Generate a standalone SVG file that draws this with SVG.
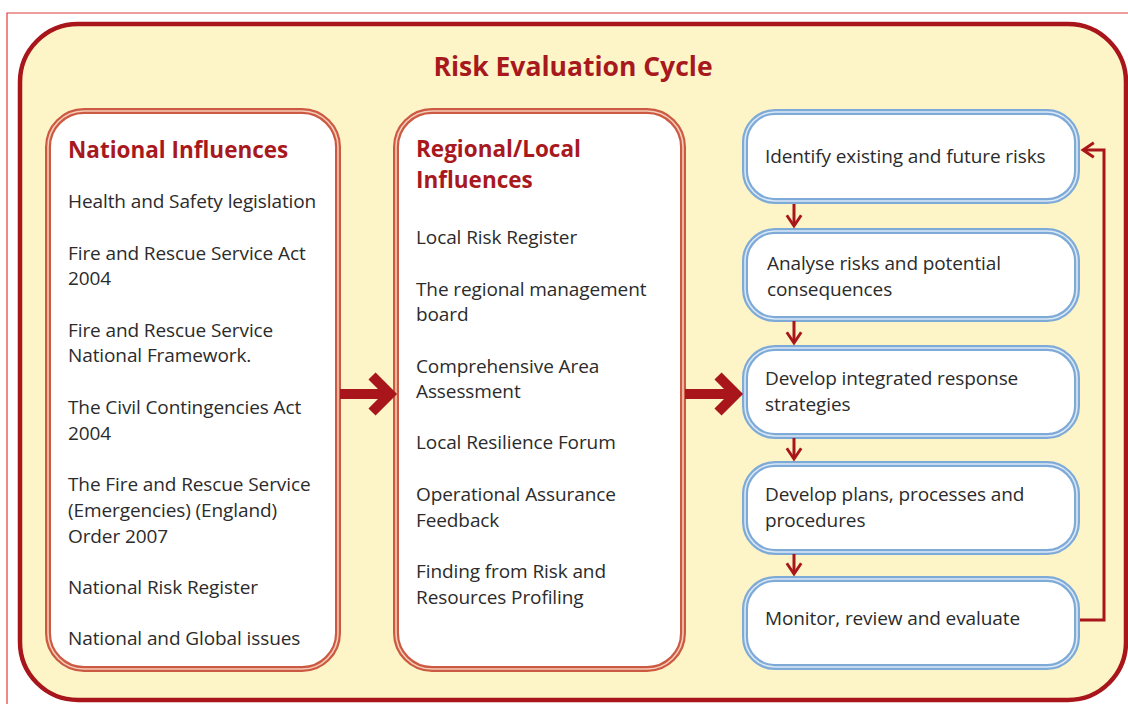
<svg xmlns="http://www.w3.org/2000/svg" width="1128" height="704" viewBox="0 0 1128 704">
<defs>
<style>
.t{font-family:"Open Sans","Liberation Sans",Arial,sans-serif;font-size:19px;fill:#2b2b2b;letter-spacing:-0.1px}
.h{font-family:"Open Sans","Liberation Sans",Arial,sans-serif;font-size:22.5px;font-weight:bold;fill:#a8191e}
.ro{fill:#fff;stroke:#cc5a42;stroke-width:6}
.ri{fill:none;stroke:#f6cdb8;stroke-width:1.6}
.bo{fill:#fff;stroke:#7eaad8;stroke-width:6}
.bi{fill:none;stroke:#dbe8f6;stroke-width:1.6}
.sa{stroke:#a8151a;stroke-width:3;fill:none}
</style>
<marker id="ah" viewBox="0 0 10 10" refX="8" refY="5" markerWidth="6" markerHeight="6" orient="auto" markerUnits="strokeWidth">
<path d="M2,1 L8,5 L2,9" fill="none" stroke="#a8151a" stroke-width="1.6"/>
</marker>
</defs>
<rect width="1128" height="704" fill="#fff"/>
<path d="M7,704 V13 H1128" fill="none" stroke="#e03a3a" stroke-width="1.2"/>
<g id="frame">
<rect x="20" y="24" width="1106" height="676" rx="58" fill="#fdf5c8" stroke="#a8151a" stroke-width="4.5"/>
<text x="573" y="76" text-anchor="middle" class="h" style="font-size:26.5px">Risk Evaluation Cycle</text>
</g>
<g id="national">
<rect class="ro" x="48" y="111" width="290" height="558" rx="36"/>
<rect class="ri" x="48" y="111" width="290" height="558" rx="36"/>
<text class="h" x="68" y="158">National Influences</text>
<text class="t" x="68" y="208">Health and Safety legislation</text>
<text class="t" x="68" y="260">Fire and Rescue Service Act</text>
<text class="t" x="68" y="285">2004</text>
<text class="t" x="68" y="337">Fire and Rescue Service</text>
<text class="t" x="68" y="362">National Framework.</text>
<text class="t" x="68" y="414">The Civil Contingencies Act</text>
<text class="t" x="68" y="440">2004</text>
<text class="t" x="68" y="491">The Fire and Rescue Service</text>
<text class="t" x="68" y="517">(Emergencies) (England)</text>
<text class="t" x="68" y="543">Order 2007</text>
<text class="t" x="68" y="594">National Risk Register</text>
<text class="t" x="68" y="645">National and Global issues</text>
</g>
<g id="regional">
<rect class="ro" x="396" y="111" width="287" height="558" rx="36"/>
<rect class="ri" x="396" y="111" width="287" height="558" rx="36"/>
<text class="h" x="416" y="157">Regional/Local</text>
<text class="h" x="416" y="188">Influences</text>
<text class="t" x="416" y="244">Local Risk Register</text>
<text class="t" x="416" y="296">The regional management</text>
<text class="t" x="416" y="321">board</text>
<text class="t" x="416" y="373">Comprehensive Area</text>
<text class="t" x="416" y="398">Assessment</text>
<text class="t" x="416" y="449">Local Resilience Forum</text>
<text class="t" x="416" y="501">Operational Assurance</text>
<text class="t" x="416" y="527">Feedback</text>
<text class="t" x="416" y="578">Finding from Risk and</text>
<text class="t" x="416" y="604">Resources Profiling</text>
</g>
<g id="identify">
<rect class="bo" x="745" y="112" width="332" height="89" rx="30"/>
<rect class="bi" x="745" y="112" width="332" height="89" rx="30"/>
<text class="t" x="765" y="163">Identify existing and future risks</text>
</g>
<g id="analyse">
<rect class="bo" x="745" y="231" width="332" height="88" rx="30"/>
<rect class="bi" x="745" y="231" width="332" height="88" rx="30"/>
<text class="t" x="767" y="270">Analyse risks and potential</text>
<text class="t" x="767" y="296">consequences</text>
</g>
<g id="develop-strategies">
<rect class="bo" x="745" y="348" width="332" height="88" rx="30"/>
<rect class="bi" x="745" y="348" width="332" height="88" rx="30"/>
<text class="t" x="765" y="385">Develop integrated response</text>
<text class="t" x="765" y="411">strategies</text>
</g>
<g id="develop-plans">
<rect class="bo" x="745" y="464" width="332" height="88" rx="30"/>
<rect class="bi" x="745" y="464" width="332" height="88" rx="30"/>
<text class="t" x="765" y="501">Develop plans, processes and</text>
<text class="t" x="765" y="527">procedures</text>
</g>
<g id="monitor">
<rect class="bo" x="745" y="579" width="332" height="88" rx="30"/>
<rect class="bi" x="745" y="579" width="332" height="88" rx="30"/>
<text class="t" x="765" y="625">Monitor, review and evaluate</text>
</g>
<g id="connectors">
<path d="M340,394 H384" stroke="#a8151a" stroke-width="10" fill="none"/>
<path d="M372,376 L390,394 L372,412" stroke="#a8151a" stroke-width="10" fill="none" stroke-linejoin="miter"/>
<path d="M685,394 H730" stroke="#a8151a" stroke-width="10" fill="none"/>
<path d="M718,376 L736,394 L718,412" stroke="#a8151a" stroke-width="10" fill="none" stroke-linejoin="miter"/>
<path class="sa" d="M794,204 V226" marker-end="url(#ah)"/>
<path class="sa" d="M794,321 V343" marker-end="url(#ah)"/>
<path class="sa" d="M794,438 V459" marker-end="url(#ah)"/>
<path class="sa" d="M794,554 V574" marker-end="url(#ah)"/>
<path class="sa" d="M1080,620 H1104 V150 H1083" marker-end="url(#ah)"/>
</g>
</svg>
